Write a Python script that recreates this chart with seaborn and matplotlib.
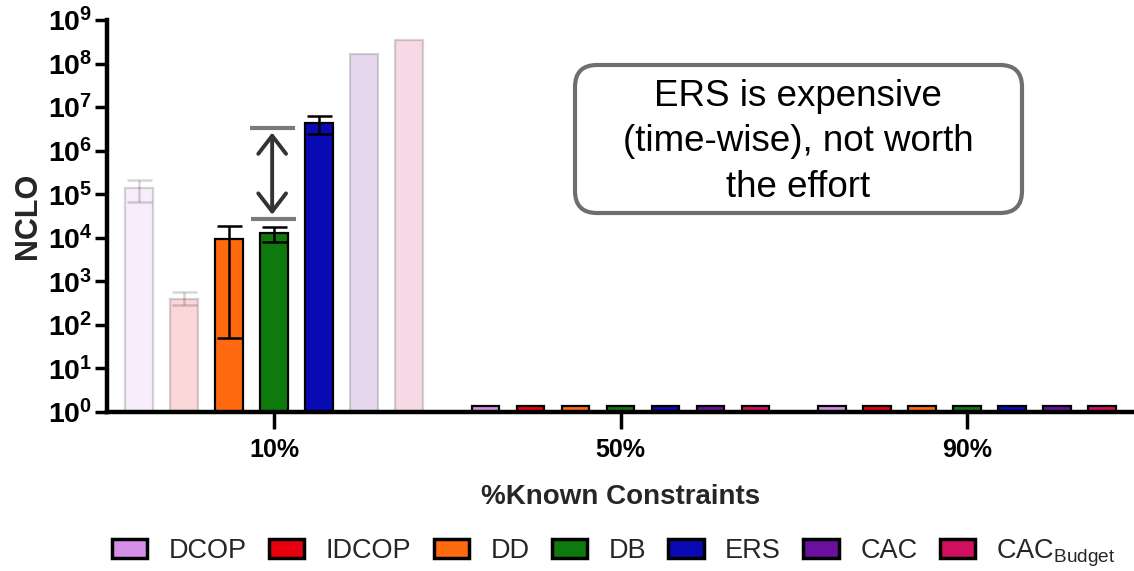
import numpy as np
import pandas as pd
import matplotlib
matplotlib.use("Agg")
import matplotlib.pyplot as plt
import seaborn as sns
from matplotlib.patches import FancyBboxPatch
from matplotlib.transforms import IdentityTransform
from matplotlib.container import BarContainer

# ---- data -------------------------------------------------------------
constraints = ["10%", "50%", "90%"]
algorithms = ["DCOP", "IDCOP", "DD", "DB", "ERS", "CAC", "CAC$_{\\mathrm{Budget}}$"]
colors = ["#d68fe8", "#e8000f", "#ff6a10", "#0e7a0e", "#0a0ab4", "#6a0f9e", "#d0105f"]

nclo_dcop = [1.4e5, 1.4, 1.4]
nclo_idcop = [4.0e2, 1.4, 1.4]
nclo_dd = [9.5e3, 1.4, 1.4]
nclo_db = [1.3e4, 1.4, 1.4]
nclo_ers = [4.4e6, 1.4, 1.4]
nclo_cac = [1.7e8, 1.4, 1.4]
nclo_cac_budget = [3.4e8, 1.4, 1.4]

nan = np.nan
err_low_dcop = [6.7e4, nan, nan]
err_high_dcop = [2.1e5, nan, nan]
err_low_idcop = [2.9e2, nan, nan]
err_high_idcop = [5.8e2, nan, nan]
err_low_dd = [50, nan, nan]
err_high_dd = [1.9e4, nan, nan]
err_low_db = [8.1e3, nan, nan]
err_high_db = [1.8e4, nan, nan]
err_low_ers = [2.4e6, nan, nan]
err_high_ers = [6.3e6, nan, nan]
err_low_cac = [nan, nan, nan]
err_high_cac = [nan, nan, nan]
err_low_cac_budget = [nan, nan, nan]
err_high_cac_budget = [nan, nan, nan]

# bars shown washed-out (de-emphasised) in the 10% group
muted_dcop = [True, False, False]
muted_idcop = [True, False, False]
muted_dd = [False, False, False]
muted_db = [False, False, False]
muted_ers = [False, False, False]
muted_cac = [True, False, False]
muted_cac_budget = [True, False, False]

decades = list(range(10))

values = [nclo_dcop, nclo_idcop, nclo_dd, nclo_db, nclo_ers, nclo_cac, nclo_cac_budget]
lows = [err_low_dcop, err_low_idcop, err_low_dd, err_low_db, err_low_ers, err_low_cac, err_low_cac_budget]
highs = [err_high_dcop, err_high_idcop, err_high_dd, err_high_db, err_high_ers, err_high_cac, err_high_cac_budget]
muted = [muted_dcop, muted_idcop, muted_dd, muted_db, muted_ers, muted_cac, muted_cac_budget]

df = pd.DataFrame(
    [(c, a, v[j]) for a, v in zip(algorithms, values) for j, c in enumerate(constraints)],
    columns=["constraints", "algorithm", "nclo"],
)

# ---- style ------------------------------------------------------------
sns.set_style("ticks")
plt.rcParams["font.family"] = ["Liberation Sans", "DejaVu Sans"]
plt.rcParams["mathtext.fontset"] = "custom"
plt.rcParams["mathtext.rm"] = "Liberation Sans"
plt.rcParams["mathtext.bf"] = "Liberation Sans:bold"
plt.rcParams["mathtext.it"] = "Liberation Sans:italic"
plt.rcParams["mathtext.sf"] = "Liberation Sans"

W, H = 1134, 571
fig = plt.figure(figsize=(W / 100, H / 100), dpi=100)
ax = fig.add_axes([107 / W, (H - 412) / H, 1 - 107 / W, (412 - 20) / H])

sns.barplot(
    data=df, x="constraints", y="nclo", hue="algorithm",
    order=constraints, hue_order=algorithms, palette=colors,
    width=0.91, gap=0.38, errorbar=None,
    edgecolor="black", linewidth=1.6, saturation=1, ax=ax,
)

ax.set_yscale("log")
ax.set_ylim(1, 1e9)
ax.set_xlim(-0.483, 2.483)

# error bars and muted bars, placed at the positions seaborn chose
fade = 0.16
bar_groups = [c for c in ax.containers if isinstance(c, BarContainer)]
for i, cont in enumerate(bar_groups):
    for j, bar in enumerate(cont.patches):
        x = bar.get_x() + bar.get_width() / 2
        a = fade if muted[i][j] else 1.0
        if muted[i][j]:
            bar.set_alpha(fade)
        lo, hi, v = lows[i][j], highs[i][j], values[i][j]
        if not np.isnan(lo):
            ax.errorbar(x, v, yerr=[[v - lo], [hi - v]], fmt="none",
                        ecolor="black", elinewidth=1.8, capsize=9,
                        capthick=1.8, alpha=a, zorder=3)

# spines and ticks
sns.despine(ax=ax, top=True, right=True)
for s in ("left", "bottom"):
    ax.spines[s].set_linewidth(3.2)
    ax.spines[s].set_color("black")
ax.set_yticks([10.0 ** k for k in decades])
ax.set_yticklabels([rf"$\mathbf{{10^{{{k}}}}}$" for k in decades])
ax.yaxis.set_minor_locator(matplotlib.ticker.NullLocator())
ax.tick_params(axis="y", length=9, width=2.5, pad=1.5, labelsize=20.5, colors="black")
ax.tick_params(axis="x", length=12, width=2.5, pad=7, labelsize=18, colors="black")
for lab in ax.get_xticklabels():
    lab.set_fontweight("bold")

ax.set_xlabel("%Known Constraints", fontsize=20, fontweight="bold")
ax.xaxis.set_label_coords(0.5, -0.183)
ax.set_ylabel("NCLO", fontsize=22, fontweight="bold")
ax.yaxis.set_label_coords(-0.062, 0.5)

# bracket + double arrow marking the DB -> ERS gap
ax.plot([-0.07, 0.06], [3.3e6, 3.3e6], color="#7a7a7a", lw=3, solid_capstyle="butt", zorder=4)
ax.plot([-0.068, 0.064], [2.7e4, 2.7e4], color="#7a7a7a", lw=3, solid_capstyle="butt", zorder=4)
ax.annotate("", xy=(-0.006, 2.6e6), xytext=(-0.006, 3.4e4),
            arrowprops=dict(arrowstyle="<->,head_length=0.65,head_width=0.5",
                            color="#333333", lw=2.8, mutation_scale=20,
                            shrinkA=0, shrinkB=0), zorder=4)

# call-out box
box = FancyBboxPatch((575, H - 213), 447, 148,
                     boxstyle="round,pad=0,rounding_size=22",
                     transform=IdentityTransform(), fc="white",
                     ec="#6e6e6e", lw=3, zorder=5)
fig.patches.append(box)
fig.text(798 / W, 1 - 142 / H, "ERS is expensive\n(time-wise), not worth\nthe effort",
         ha="center", va="center", fontsize=26.5, linespacing=1.38, color="black", zorder=6)

# legend along the bottom
handles, labels = ax.get_legend_handles_labels()
if ax.get_legend() is not None:
    ax.get_legend().remove()
leg = fig.legend(handles, labels, ncol=7, loc="center left",
                 bbox_to_anchor=(112 / W, 18 / H), frameon=False,
                 fontsize=19.5, handlelength=1.3, handleheight=0.7,
                 handletextpad=0.8, columnspacing=0.82,
                 borderpad=0, borderaxespad=0)
for h in leg.legend_handles:
    h.set_edgecolor("black")
    h.set_linewidth(2.5)
    h.set_alpha(1)

fig.savefig("out.png", dpi=100)
